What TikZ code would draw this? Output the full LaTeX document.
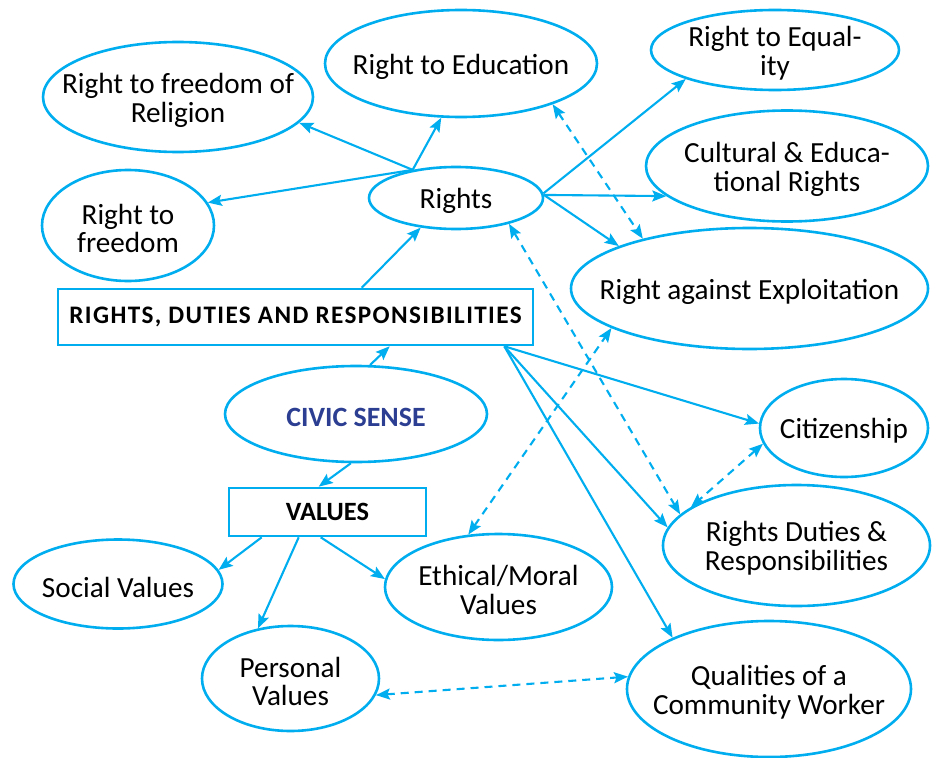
\documentclass[tikz,border=0pt]{standalone}
\usepackage{fontspec}
\setmainfont{Carlito}
\usetikzlibrary{shapes.geometric,arrows.meta}
\definecolor{cy}{RGB}{0,174,239}
\definecolor{civblue}{RGB}{43,62,145}
\begin{document}
\begin{tikzpicture}[x=1bp,y=-1bp,
  ell/.style={ellipse,draw=cy,line width=2.6bp,inner sep=0pt},
  box/.style={rectangle,draw=cy,line width=2.6bp,inner sep=0pt},
  txt/.style={align=center,inner sep=0pt,yshift=-3bp,font=\fontsize{29.3}{29}\selectfont,text=black},
  arr/.style={draw=cy,line width=2.1bp,-{Stealth[length=14bp,width=11bp,inset=2.5bp]}},
  darr/.style={draw=cy,line width=2.1bp,{Stealth[length=14bp,width=11bp,inset=2.5bp]}-{Stealth[length=14bp,width=11bp,inset=2.5bp]},dash pattern=on 8bp off 6bp}
]
\useasboundingbox (0,0) rectangle (932,758);

% ellipses
\node[ell,minimum width=270bp,minimum height=110bp,label={[txt]center:{Right to freedom of\\Religion}}] (rel) at (178,97) {};
\node[ell,minimum width=272bp,minimum height=107bp,label={[txt]center:{Right to Education}}] (edu) at (461,63.5) {};
\node[ell,minimum width=248bp,minimum height=80bp,label={[txt]center:{Right to Equal-\\ity}}] (equ) at (775,50) {};
\node[ell,minimum width=282bp,minimum height=111bp,label={[txt]center:{Cultural \& Educa-\\tional Rights}}] (cul) at (787,166) {};
\node[ell,minimum width=174bp,minimum height=62bp,label={[txt]center:{Rights}}] (rts) at (456,198) {};
\node[ell,minimum width=172bp,minimum height=111bp,label={[txt]center:{Right to\\freedom}}] (frd) at (128,225.5) {};
\node[ell,minimum width=357bp,minimum height=121bp,label={[txt]center:{Right against Exploitation}}] (exp) at (749.5,288.5) {};
\node[ell,minimum width=262bp,minimum height=96bp,label={[txt,text=civblue,font=\fontsize{28}{29}\selectfont\bfseries]center:{CIVIC SENSE}}] (civ) at (356,414) {};
\node[ell,minimum width=209bp,minimum height=89bp,label={[txt]center:{Social Values}}] (soc) at (118,584) {};
\node[ell,minimum width=177bp,minimum height=105bp,label={[txt]center:{Personal\\Values}}] (per) at (290.5,678.5) {};
\node[ell,minimum width=227bp,minimum height=106bp,label={[txt]center:{Ethical/Moral\\Values}}] (eth) at (498.5,587) {};
\node[ell,minimum width=168bp,minimum height=98bp,label={[txt]center:{Citizenship}}] (cit) at (844,428) {};
\node[ell,minimum width=267bp,minimum height=121bp,label={[txt]center:{Rights Duties \&\\Responsibilities}}] (rdu) at (796.5,545.5) {};
\node[ell,minimum width=284bp,minimum height=136bp,label={[txt]center:{Qualities of a\\Community Worker}}] (qua) at (769,689) {};

% boxes
\node[box,minimum width=475bp,minimum height=56bp,font=\fontsize{25.3}{25}\selectfont\bfseries] (rdr) at (295.5,317) {\addfontfeature{LetterSpace=5.5}RIGHTS, DUTIES AND RESPONSIBILITIES};
\node[box,minimum width=197bp,minimum height=48bp,font=\fontsize{26.5}{26.5}\selectfont\bfseries] (val) at (327.5,512) {VALUES};

% helper points on box borders
\coordinate (rdrT) at ([xshift=305bp]rdr.north west);
\coordinate (rdrB) at ([xshift=-30bp]rdr.south east);
\coordinate (rdrC) at ([xshift=333bp]rdr.south west);
\coordinate (valT) at ([xshift=91bp]val.north west);
\coordinate (valB1) at ([xshift=34bp]val.south west);
\coordinate (valB2) at ([xshift=71bp]val.south west);
\coordinate (valB3) at ([xshift=93bp]val.south west);

% solid arrows
\draw[arr] (rts.147) -- (rel.-12);
\draw[arr] (rts.147) -- (edu.-110);
\draw[arr] (rts.147) -- (frd.16);
\draw[arr] (rts.3) -- (equ.-162);
\draw[arr] (rts.2) -- (cul.-166);
\draw[arr] (rts.2) -- (exp.162);
\draw[arr] (rdrT) -- (rts.-140);
\draw[arr] (civ.74) -- (rdrC);
\draw[arr] (civ.-96) -- (valT);
\draw[arr] (valB1) -- (soc.8);
\draw[arr] (valB2) -- (per.123);
\draw[arr] (valB3) -- (eth.176);
\draw[arr] (rdrB) -- (cit.177);
\draw[arr] (rdrB) -- (rdu.172);
\draw[arr] (rdrB) -- (qua.152);

% dashed double arrows
\draw[darr] (edu.-24) -- (exp.155);
\draw[darr] (rts.-26) -- (rdu.165);
\draw[darr] (cit.-169) -- (rdu.160);
\draw[darr] (eth.120) -- (exp.-164);
\draw[darr] (per.-11) -- (qua.175);
\end{tikzpicture}
\end{document}
